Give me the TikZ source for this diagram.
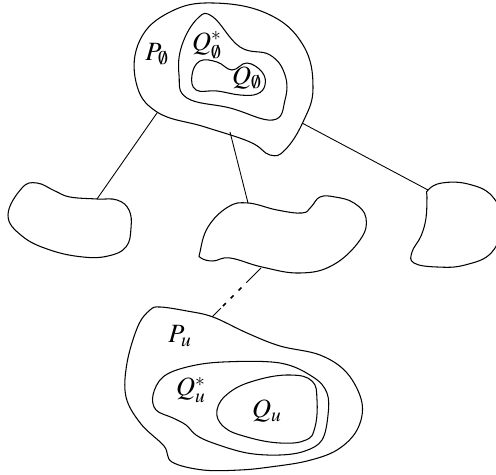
\documentclass[tikz,border=0pt]{standalone}
\usepackage{mathptmx}
\usetikzlibrary{calc}

\tikzset{
	blob/.style={draw, line width=0.6pt},
	edge/.style={draw, line width=0.5pt},
	lbl/.style={font=\fontsize{15}{17}\selectfont, inner sep=0pt}
}

\begin{document}
\begin{tikzpicture}[x=0.02cm, y=-0.02cm]
	\useasboundingbox (0,0) rectangle (496,475);
	% Root piece with its two inner regions:
	\draw[blob] plot[smooth cycle, tension=0.7] coordinates {(213,3) (268,14) (303,45) (313,88) (303,122) (285,150) (270,155) (250,142) (205,127) (157,112) (136,82) (140,40) (170,12)};
	\draw[blob] plot[smooth cycle, tension=0.7] coordinates {(182,45) (198,18) (213,17) (240,47) (270,55) (285,75) (285,100) (273,120) (230,108) (187,98) (179,75)};
	\draw[blob] plot[smooth cycle, tension=0.7] coordinates {(192,75) (200,61) (217,62) (232,70) (247,63) (262,72) (265,85) (257,94) (240,95) (217,91) (196,90)};
	\node[lbl] (pempty) at (157,54) {$P_\emptyset$};
	\node[lbl] (qsempty) at (207,45) {$Q_\emptyset^*$};
	\node[lbl] (qempty) at (247,78) {$Q_\emptyset$};
	% Children:
	\draw[blob] plot[smooth cycle, tension=0.7] coordinates {(8,215) (22,188) (37,183) (55,191) (70,197) (97,199) (117,200) (129,210) (131,228) (126,247) (108,256) (83,257) (50,250) (22,236)};
	\draw[blob] plot[smooth cycle, tension=0.7] coordinates {(200,252) (208,227) (228,207) (248,203) (277,210) (302,213) (311,207) (320,197) (335,197) (354,203) (366,218) (360,240) (333,265) (300,273) (262,267) (230,258) (213,261) (201,258)};
	\draw[blob] plot[smooth cycle, tension=0.7] coordinates {(428,190) (442,183) (468,184) (492,196) (502,222) (492,252) (465,265) (437,267) (414,263) (412,252) (421,236) (426,218) (427,198)};
	% Piece u with its two inner regions:
	\draw[blob] plot[smooth cycle, tension=0.6] coordinates {(150,310) (160,307) (187,311) (213,317) (247,333) (280,346) (320,355) (347,373) (362,403) (357,430) (337,450) (307,461) (270,467) (240,470) (203,470) (172,462) (164,446) (141,424) (126,397) (127,363) (138,326)};
	\draw[blob] plot[smooth cycle, tension=0.6] coordinates {(163,377) (187,367) (223,362) (280,363) (313,377) (327,393) (328,415) (322,440) (305,451) (280,455) (247,453) (213,443) (196,435) (186,425) (173,418) (156,410) (153,395)};
	\draw[blob] plot[smooth cycle, tension=0.7] coordinates {(217,410) (230,392) (257,380) (290,375) (312,381) (317,400) (315,427) (306,440) (280,443) (247,437) (224,427)};
	\node[lbl] (pu) at (180,336) {$P_u$};
	\node[lbl] (qsu) at (191,390) {$Q_u^*$};
	\node[lbl] (qu) at (267,411) {$Q_u$};
	% Tree edges:
	\coordinate (root-l) at (157,113);
	\coordinate (root-m) at (230,132);
	\coordinate (root-r) at (302,123);
	\coordinate (left-top) at (97,199);
	\coordinate (mid-top) at (248,203);
	\coordinate (right-top) at (428,190);
	\coordinate (mid-bot) at (261,268);
	\coordinate (u-top) at (212,317);
	\draw[edge] (root-l) -- (left-top);
	\draw[edge] (root-m) -- (mid-top);
	\draw[edge] (root-r) -- (right-top);
	\draw[edge] (mid-bot) -- ($(mid-bot)!0.3!(u-top)$);
	\draw[edge, line width=1pt, dash pattern=on 2.3pt off 4pt] ($(mid-bot)!0.40!(u-top)$) -- ($(mid-bot)!0.78!(u-top)$);
	\draw[edge] ($(mid-bot)!0.82!(u-top)$) -- (u-top);
\end{tikzpicture}
\end{document}
